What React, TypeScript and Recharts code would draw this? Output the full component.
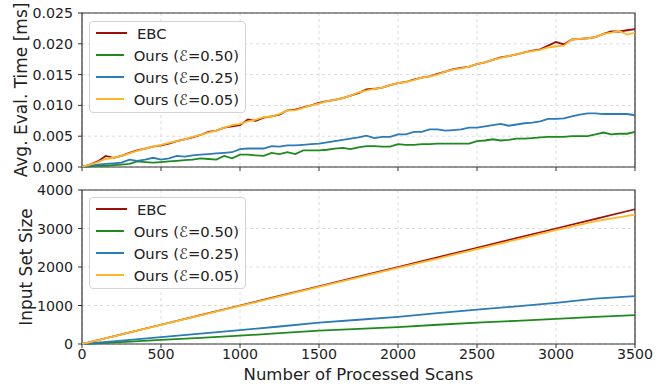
import React from 'react';
import { LineChart, Line, XAxis, YAxis, CartesianGrid, Legend, ReferenceArea } from 'recharts';

// top panel: avg evaluation time, one sample every 50 scans
const scans = [
  0, 50, 100, 150, 200, 250, 300, 350, 400, 450, 500, 550, 600, 650, 700, 750, 800, 850, 900, 950,
  1000, 1050, 1100, 1150, 1200, 1250, 1300, 1350, 1400, 1450, 1500, 1550, 1600, 1650, 1700, 1750,
  1800, 1850, 1900, 1950, 2000, 2050, 2100, 2150, 2200, 2250, 2300, 2350, 2400, 2450, 2500, 2550,
  2600, 2650, 2700, 2750, 2800, 2850, 2900, 2950, 3000, 3050, 3100, 3150, 3200, 3250, 3300, 3350,
  3400, 3450, 3500,
];
const ebcTime = [
  0, 0.0004, 0.0009, 0.0018, 0.0015, 0.0018, 0.0023, 0.0027, 0.003, 0.0033, 0.0035, 0.0038, 0.0042,
  0.0045, 0.0048, 0.0052, 0.0057, 0.0059, 0.0064, 0.0066, 0.0068, 0.0077, 0.0075, 0.008, 0.0082,
  0.0085, 0.0092, 0.0093, 0.0097, 0.01, 0.0104, 0.0107, 0.0109, 0.0112, 0.0116, 0.012, 0.0126,
  0.0127, 0.0129, 0.0133, 0.0136, 0.0138, 0.0142, 0.0145, 0.0147, 0.0151, 0.0155, 0.0159, 0.0161,
  0.0163, 0.0167, 0.017, 0.0174, 0.0178, 0.018, 0.0183, 0.0186, 0.0189, 0.0191, 0.0197, 0.0203,
  0.0199, 0.0207, 0.0208, 0.0209, 0.0211, 0.0216, 0.022, 0.022, 0.0222, 0.0224,
];
const time050 = [
  0, 0.0001, 0.0002, 0.0002, 0.0003, 0.0004, 0.0005, 0.0009, 0.0008, 0.0007, 0.0008, 0.0009, 0.001,
  0.0011, 0.0012, 0.0014, 0.0013, 0.0012, 0.0018, 0.0014, 0.002, 0.002, 0.0019, 0.0018, 0.0023,
  0.0021, 0.0024, 0.0021, 0.0027, 0.0027, 0.0027, 0.0028, 0.003, 0.0031, 0.0029, 0.0032, 0.0034,
  0.0034, 0.0033, 0.0033, 0.0037, 0.0036, 0.0036, 0.0037, 0.0037, 0.0038, 0.0038, 0.0038, 0.0038,
  0.0038, 0.0042, 0.0043, 0.0045, 0.0043, 0.0044, 0.0046, 0.0046, 0.0047, 0.0048, 0.0049, 0.0049,
  0.0049, 0.005, 0.005, 0.005, 0.0053, 0.0056, 0.0053, 0.0054, 0.0054, 0.0057,
];
const time025 = [
  0, 0.0002, 0.0004, 0.0005, 0.0006, 0.0007, 0.0012, 0.001, 0.0012, 0.0015, 0.0012, 0.0014, 0.0018,
  0.0017, 0.0019, 0.002, 0.0021, 0.0022, 0.0023, 0.0024, 0.0029, 0.003, 0.003, 0.003, 0.0034,
  0.0033, 0.0035, 0.0035, 0.0036, 0.0037, 0.0038, 0.004, 0.0042, 0.0044, 0.0046, 0.0048, 0.0051,
  0.0047, 0.0049, 0.0049, 0.0053, 0.0053, 0.0057, 0.0057, 0.0061, 0.0061, 0.0059, 0.006, 0.0061,
  0.0064, 0.0064, 0.0066, 0.0068, 0.007, 0.0067, 0.0069, 0.0071, 0.0072, 0.0074, 0.0078, 0.0078,
  0.0079, 0.0082, 0.0085, 0.0087, 0.0087, 0.0086, 0.0086, 0.0086, 0.0086, 0.0084,
];
const time005 = [
  0, 0.0004, 0.0008, 0.0013, 0.0015, 0.0018, 0.0022, 0.0026, 0.003, 0.0033, 0.0036, 0.0039, 0.0042,
  0.0045, 0.0049, 0.0052, 0.0056, 0.0059, 0.0064, 0.0068, 0.007, 0.0074, 0.0077, 0.0081, 0.0082,
  0.0086, 0.0092, 0.0092, 0.0096, 0.01, 0.0103, 0.0107, 0.0109, 0.0112, 0.0116, 0.0121, 0.0124,
  0.0127, 0.0129, 0.0133, 0.0136, 0.0138, 0.0141, 0.0145, 0.0147, 0.015, 0.0155, 0.0158, 0.016,
  0.0163, 0.0167, 0.017, 0.0174, 0.0177, 0.018, 0.0183, 0.0186, 0.0188, 0.019, 0.0194, 0.0196,
  0.0197, 0.0207, 0.0208, 0.0209, 0.0211, 0.0216, 0.0218, 0.0221, 0.0215, 0.0218,
];

// bottom panel: input set size
const sizeScans = [0, 250, 500, 750, 1000, 1250, 1500, 1750, 2000, 2250, 2500, 2750, 3000, 3250, 3500];
const ebcSize = [0, 250, 500, 750, 1000, 1250, 1500, 1750, 2000, 2250, 2500, 2750, 3000, 3250, 3500];
const size050 = [0, 50, 105, 160, 215, 280, 345, 395, 440, 500, 555, 600, 650, 705, 750];
const size025 = [0, 90, 180, 270, 360, 455, 555, 630, 705, 800, 895, 975, 1070, 1180, 1245];
const size005 = [0, 247, 494, 741, 988, 1235, 1482, 1728, 1975, 2220, 2465, 2710, 2955, 3190, 3360];

const xTicks = [0, 500, 1000, 1500, 2000, 2500, 3000, 3500];
const timeTicks = [0, 0.005, 0.01, 0.015, 0.02, 0.025];
const sizeTicks = [0, 1000, 2000, 3000, 4000];

const timeRows = scans.map((s, i) => ({
  scan: s, ebc: ebcTime[i], e050: time050[i], e025: time025[i], e005: time005[i],
}));
const sizeRows = sizeScans.map((s, i) => ({
  scan: s, ebc: ebcSize[i], e050: size050[i], e025: size025[i], e005: size005[i],
}));

const series = [
  { key: 'ebc', name: 'EBC', color: '#a00d0d' },
  { key: 'e050', name: 'Ours (\u2130=0.50)', color: '#1e8a1e' },
  { key: 'e025', name: 'Ours (\u2130=0.25)', color: '#2c7bb6' },
  { key: 'e005', name: 'Ours (\u2130=0.05)', color: '#fdb827' },
];

const FONT = '"DejaVu Sans", sans-serif';
const tickStyle = { fontSize: 14.2, fill: '#222', fontFamily: FONT };
const axisStroke = '#333';

const LegendBox = () => (
  <div
    style={{
      border: '1px solid #d4d4d4',
      borderRadius: 4,
      background: 'rgba(255,255,255,0.85)',
      padding: '0 6px 2px 6px',
      fontFamily: FONT,
      fontSize: 14.8,
      color: '#222',
      width: 143,
    }}
  >
    {series.map((s) => (
      <div key={s.key} style={{ height: 22, display: 'flex', alignItems: 'center' }}>
        <svg width={31} height={4} style={{ marginRight: 10 }}>
          <line x1={0} y1={2} x2={31} y2={2} stroke={s.color} strokeWidth={2} />
        </svg>
        <span style={{ whiteSpace: 'nowrap' }}>{s.name}</span>
      </div>
    ))}
  </div>
);

const yLabel = (text: string, x: number, y: number) => () => (
  <text
    x={x}
    y={y}
    transform={`rotate(-90 ${x} ${y})`}
    textAnchor="middle"
    dominantBaseline="central"
    style={{ fontSize: 17, fill: '#222', fontFamily: FONT }}
  >
    {text}
  </text>
);

const renderLines = () =>
  series.map((s) => (
    <Line
      key={s.key}
      type="linear"
      dataKey={s.key}
      name={s.name}
      stroke={s.color}
      strokeWidth={1.8}
      dot={false}
      activeDot={false}
      isAnimationActive={false}
    />
  ));

const App = () => {
  return (
    <div style={{ position: 'absolute', left: 0, top: 0, width: 662, height: 384, background: '#fff' }}>
      <LineChart width={662} height={180} data={timeRows} margin={{ top: 13, right: 27, left: 0, bottom: 0 }}>
        <CartesianGrid strokeDasharray="3 3" stroke="#dcdcdc" />
        <XAxis
          type="number"
          dataKey="scan"
          domain={[0, 3500]}
          ticks={xTicks}
          height={13}
          tickFormatter={() => ''}
          tickSize={4}
          axisLine={false}
          tickLine={{ stroke: axisStroke }}
        />
        <YAxis
          type="number"
          domain={[0, 0.025]}
          ticks={timeTicks}
          width={82}
          tickFormatter={(v: number) => v.toFixed(3)}
          tick={tickStyle}
          tickSize={4}
          tickMargin={5}
          axisLine={false}
          tickLine={{ stroke: axisStroke }}
          label={yLabel('Avg. Eval. Time [ms]', 21, 90)}
        />
        <ReferenceArea x1={0} x2={3500} y1={0} y2={0.025} fill="none" stroke={axisStroke} strokeWidth={1.2} />
        {renderLines()}
        <Legend
          layout="vertical"
          align="center"
          verticalAlign="middle"
          content={() => <LegendBox />}
          wrapperStyle={{ left: 89, top: 21, width: 'auto' }}
        />
      </LineChart>
      <LineChart width={662} height={204} data={sizeRows} margin={{ top: 10, right: 27, left: 0, bottom: 0 }}>
        <CartesianGrid strokeDasharray="3 3" stroke="#dcdcdc" />
        <XAxis
          type="number"
          dataKey="scan"
          domain={[0, 3500]}
          ticks={xTicks}
          height={40}
          tick={tickStyle}
          tickSize={4}
          tickMargin={1}
          axisLine={false}
          tickLine={{ stroke: axisStroke }}
          label={{
            value: 'Number of Processed Scans',
            position: 'insideBottom',
            offset: 4,
            style: { fontSize: 16.5, fill: '#222', fontFamily: FONT },
          }}
        />
        <YAxis
          type="number"
          domain={[0, 4000]}
          ticks={sizeTicks}
          width={82}
          tick={tickStyle}
          tickSize={4}
          tickMargin={5}
          axisLine={false}
          tickLine={{ stroke: axisStroke }}
          label={yLabel('Input Set Size', 26, 87)}
        />
        <ReferenceArea x1={0} x2={3500} y1={0} y2={4000} fill="none" stroke={axisStroke} strokeWidth={1.2} />
        {renderLines()}
        <Legend
          layout="vertical"
          align="center"
          verticalAlign="middle"
          content={() => <LegendBox />}
          wrapperStyle={{ left: 89, top: 17, width: 'auto' }}
        />
      </LineChart>
    </div>
  );
};

export default App;
